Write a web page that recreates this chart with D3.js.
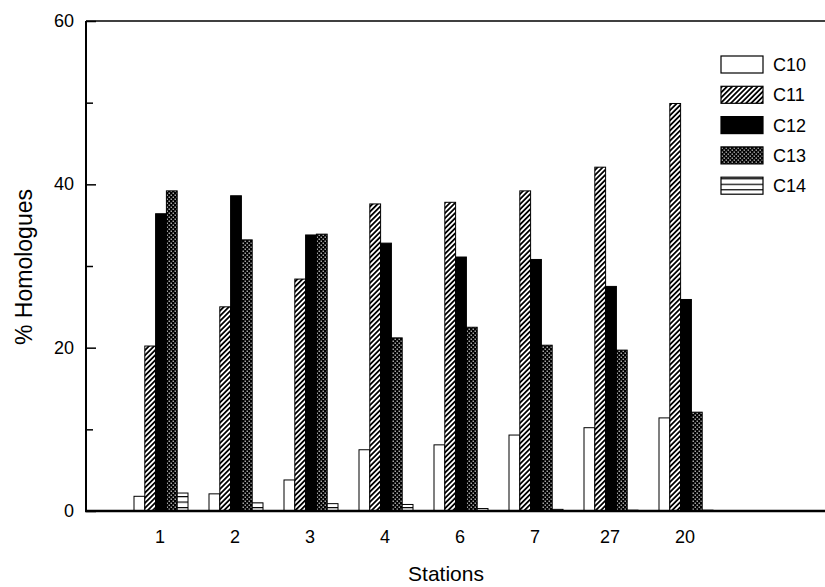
<!DOCTYPE html>
<html>
<head>
<meta charset="utf-8">
<script src="https://cdn.jsdelivr.net/npm/d3@7"></script>
<style>
  body { margin: 0; background: #fff; }
  text { font-family: "Liberation Sans", Arial, sans-serif; fill: #000; }
</style>
</head>
<body>
<div class="chart"></div>
<script>
var stations = ["1", "2", "3", "4", "6", "7", "27", "20"];
var seriesNames = ["C10", "C11", "C12", "C13", "C14"];
var c10 = [1.8, 2.1, 3.8, 7.5, 8.1, 9.3, 10.2, 11.4];
var c11 = [20.2, 25.0, 28.4, 37.6, 37.8, 39.2, 42.1, 49.9];
var c12 = [36.4, 38.6, 33.8, 32.8, 31.1, 30.8, 27.5, 25.9];
var c13 = [39.2, 33.2, 33.9, 21.2, 22.5, 20.3, 19.7, 12.1];
var c14 = [2.2, 1.0, 0.9, 0.8, 0.3, 0.2, 0.1, 0.1];
var yTicks = [0, 20, 40, 60];
var yMinor = [10, 30, 50];

var series = [c10, c11, c12, c13, c14];

var width = 825,
    height = 587,
    margin = { top: 21, left: 86, bottom: 76 },
    barWidth = 10.8;

var svg = d3.select(".chart").append("svg")
    .attr("width", width)
    .attr("height", height);

// fill patterns, one per homologue
var defs = svg.append("defs");

var hatch = defs.append("pattern")
    .attr("id", "p11")
    .attr("patternUnits", "userSpaceOnUse")
    .attr("width", 3.6).attr("height", 3.6)
    .attr("patternTransform", "rotate(45)");
hatch.append("rect").attr("width", 3.6).attr("height", 3.6).attr("fill", "#fff");
hatch.append("rect").attr("width", 1.8).attr("height", 3.6).attr("fill", "#000");

var dots = defs.append("pattern")
    .attr("id", "p13")
    .attr("patternUnits", "userSpaceOnUse")
    .attr("width", 4).attr("height", 4);
dots.append("rect").attr("width", 4).attr("height", 4).attr("fill", "#000");
dots.append("rect").attr("x", 0.6).attr("y", 0.6).attr("width", 1.2).attr("height", 1.2).attr("fill", "#fff");
dots.append("rect").attr("x", 2.6).attr("y", 2.6).attr("width", 1.2).attr("height", 1.2).attr("fill", "#fff");

var lines = defs.append("pattern")
    .attr("id", "p14")
    .attr("patternUnits", "userSpaceOnUse")
    .attr("width", 6).attr("height", 5.5)
    .attr("y", 1);
lines.append("rect").attr("width", 6).attr("height", 5.5).attr("fill", "#fff");
lines.append("rect").attr("width", 6).attr("height", 1.2).attr("fill", "#000");

var fills = ["#fff", "url(#p11)", "#000", "url(#p13)", "url(#p14)"];

var x = d3.scaleLinear().domain([0, 10]).range([margin.left, margin.left + 750]);
var y = d3.scaleLinear().domain([0, 60]).range([height - margin.bottom, margin.top]);

// bars
var group = svg.selectAll(".station")
    .data(stations)
    .enter().append("g")
      .attr("class", "station");

group.each(function(st, i) {
  var g = d3.select(this);
  series.forEach(function(values, k) {
    var left = x(i + 1) - 2.5 * barWidth + k * barWidth;
    g.append("rect")
      .attr("x", left)
      .attr("y", y(values[i]))
      .attr("width", barWidth)
      .attr("height", y(0) - y(values[i]))
      .attr("fill", fills[k])
      .attr("stroke", "#000")
      .attr("stroke-width", 1);
  });
});

// frame: left, top and bottom lines
svg.append("line")
  .attr("x1", x(0)).attr("x2", x(0))
  .attr("y1", y(60)).attr("y2", y(0))
  .attr("stroke", "#000").attr("stroke-width", 2);
svg.append("line")
  .attr("x1", x(0)).attr("x2", width)
  .attr("y1", y(60)).attr("y2", y(60))
  .attr("stroke", "#000").attr("stroke-width", 1.5);
svg.append("line")
  .attr("x1", x(0) - 1).attr("x2", width)
  .attr("y1", y(0)).attr("y2", y(0))
  .attr("stroke", "#000").attr("stroke-width", 2.5);

// y axis with inward ticks
var yAxis = svg.append("g")
  .attr("transform", "translate(" + x(0) + ",0)")
  .call(d3.axisRight(y).tickValues(yTicks).tickSize(10).tickFormat(""));
yAxis.select(".domain").remove();
yAxis.selectAll("line").attr("stroke-width", 1.5);

var yMinorAxis = svg.append("g")
  .attr("transform", "translate(" + x(0) + ",0)")
  .call(d3.axisRight(y).tickValues(yMinor).tickSize(7).tickFormat(""));
yMinorAxis.select(".domain").remove();
yMinorAxis.selectAll("line").attr("stroke-width", 1.5);

svg.selectAll(".ylabel")
  .data(yTicks)
  .enter().append("text")
    .attr("class", "ylabel")
    .attr("x", x(0) - 12)
    .attr("y", function(d) { return y(d) + 6; })
    .style("text-anchor", "end")
    .style("font-size", "18px")
    .text(function(d) { return d; });

// station labels
svg.selectAll(".xlabel")
  .data(stations)
  .enter().append("text")
    .attr("class", "xlabel")
    .attr("x", function(d, i) { return x(i + 1) - 1; })
    .attr("y", 543)
    .style("text-anchor", "middle")
    .style("font-size", "18px")
    .text(function(d) { return d; });

svg.append("text")
  .attr("x", 446)
  .attr("y", 581)
  .style("text-anchor", "middle")
  .style("font-size", "21px")
  .text("Stations");

svg.append("text")
  .attr("transform", "translate(32,267) rotate(-90)")
  .style("text-anchor", "middle")
  .style("font-size", "23px")
  .text("% Homologues");

// legend
var legend = svg.selectAll(".legend")
  .data(seriesNames)
  .enter().append("g")
    .attr("class", "legend")
    .attr("transform", function(d, i) { return "translate(721," + (56 + i * 30.3) + ")"; });

legend.append("rect")
  .attr("width", 42)
  .attr("height", 17)
  .attr("fill", function(d, i) { return fills[i]; })
  .attr("stroke", "#000")
  .attr("stroke-width", 1.2);

legend.append("text")
  .attr("x", 52)
  .attr("y", 15)
  .style("font-size", "18px")
  .text(function(d) { return d; });
</script>
</body>
</html>
